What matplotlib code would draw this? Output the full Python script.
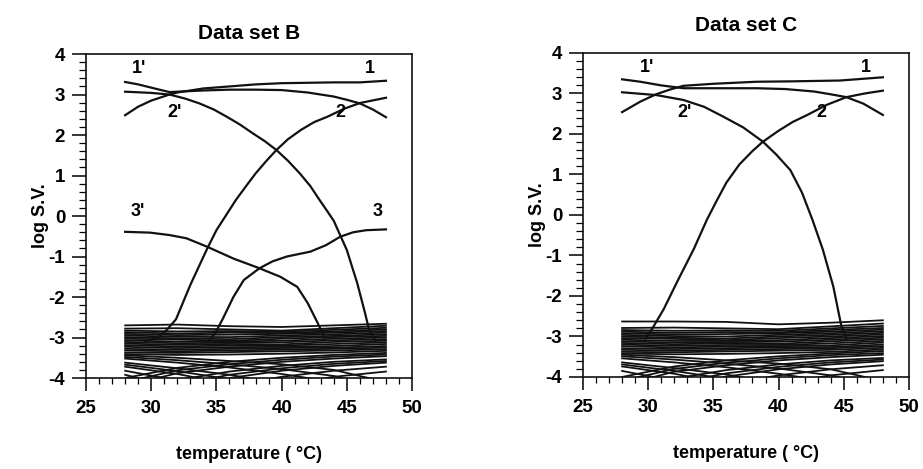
"""
Evolving factor analysis plot: log singular values vs temperature,
forward (1, 2, 3) and backward (1', 2', 3') curves over a noise floor.
"""

import matplotlib
matplotlib.use("Agg")
import matplotlib.pyplot as plt
from matplotlib.ticker import MultipleLocator

plt.rcParams["font.family"] = ["Liberation Sans", "DejaVu Sans"]
plt.rcParams["font.weight"] = "bold"
plt.rcParams["axes.unicode_minus"] = False

INK = "#111111"

# ---------------------------------------------------------------------
# Data set B
# ---------------------------------------------------------------------
b1_t = [28, 29, 30, 31.4, 32, 34, 36, 38, 40, 44, 46, 48]
b1_v = [2.49, 2.70, 2.85, 3.00, 3.05, 3.15, 3.20, 3.25, 3.28, 3.30, 3.30, 3.34]

b1p_t = [28, 29, 30, 31.4, 32, 34, 36, 38, 40, 42, 44, 45, 46, 47, 48]
b1p_v = [3.31, 3.25, 3.17, 3.06, 3.07, 3.10, 3.12, 3.12, 3.11, 3.05, 2.95, 2.87, 2.78, 2.63, 2.44]

b2_t = [29.5, 30.5, 31.2, 31.9, 33.0, 34.3, 35.0, 35.6, 36.5, 37.3, 38.0, 38.8, 39.6,
        40.5, 41.5, 42.5, 43.5, 44.8, 46.0, 48.0]
b2_v = [-3.10, -3.00, -2.81, -2.55, -1.70, -0.80, -0.35, -0.05, 0.40, 0.75, 1.05, 1.35, 1.63,
        1.90, 2.13, 2.32, 2.45, 2.65, 2.79, 2.92]

b2p_t = [28, 30, 31.4, 32.6, 33.7, 34.8, 35.8, 36.8, 37.8, 38.7, 39.6, 40.5, 41.4,
         42.2, 42.9, 43.5, 44.0, 45.0, 45.8, 46.4, 46.7, 47.2]
b2p_v = [3.07, 3.04, 3.00, 2.90, 2.78, 2.63, 2.45, 2.26, 2.04, 1.85, 1.63, 1.36, 1.05,
         0.74, 0.40, 0.12, -0.12, -0.84, -1.66, -2.40, -2.80, -3.10]

b3_t = [34.3, 34.9, 35.5, 36.3, 37.1, 38.3, 39.3, 40.4, 42.2, 43.4, 44.5, 45.5, 46.5, 48.0]
b3_v = [-3.10, -2.90, -2.53, -2.00, -1.58, -1.29, -1.12, -1.00, -0.88, -0.72, -0.51, -0.40, -0.35, -0.33]

b3p_t = [28, 29.9, 31.4, 32.7, 34.3, 36.3, 38.3, 39.9, 41.2, 42.0, 42.7, 43.3]
b3p_v = [-0.39, -0.41, -0.47, -0.55, -0.76, -1.05, -1.29, -1.50, -1.75, -2.15, -2.60, -3.00]

# ---------------------------------------------------------------------
# Data set C
# ---------------------------------------------------------------------
c1_t = [28, 29.4, 30.6, 31.7, 32.7, 35, 38.3, 41, 44.7, 48]
c1_v = [2.54, 2.80, 2.98, 3.10, 3.19, 3.24, 3.29, 3.30, 3.32, 3.40]

c1p_t = [28, 29.4, 31, 32.7, 35, 38.3, 40.5, 42.7, 44, 45.2, 46.5, 48]
c1p_v = [3.35, 3.29, 3.20, 3.13, 3.13, 3.13, 3.11, 3.05, 2.98, 2.91, 2.75, 2.47]

c2_t = [29.8, 30.4, 31.2, 32.3, 33.5, 34.5, 35.25, 36.0, 37.0, 38.0, 38.8, 40.0,
        41.1, 42.2, 43.7, 45.2, 46.6, 48.0]
c2_v = [-3.05, -2.76, -2.32, -1.60, -0.84, -0.12, 0.35, 0.80, 1.25, 1.58, 1.81, 2.08,
        2.30, 2.47, 2.72, 2.91, 3.00, 3.07]

c2p_t = [28, 30.65, 32.7, 34.3, 35.75, 37.3, 38.8, 39.8, 40.9, 41.8, 42.6, 43.4, 44.2, 44.8, 45.2]
c2p_v = [3.03, 2.96, 2.84, 2.67, 2.43, 2.16, 1.81, 1.50, 1.11, 0.55, -0.12, -0.86, -1.77, -2.72, -3.05]

# noise floor, sampled at NOISE_T
NOISE_T = [28, 32, 36, 40, 44, 48]

noise_b = [
    [-2.70, -2.68, -2.72, -2.74, -2.70, -2.66],
    [-2.78, -2.77, -2.80, -2.83, -2.77, -2.71],
    [-2.83, -2.85, -2.84, -2.86, -2.81, -2.76],
    [-2.87, -2.90, -2.88, -2.89, -2.85, -2.80],
    [-2.91, -2.94, -2.93, -2.91, -2.88, -2.84],
    [-2.95, -2.98, -2.99, -2.95, -2.92, -2.88],
    [-2.99, -3.02, -3.04, -2.99, -2.96, -2.92],
    [-3.03, -3.05, -3.08, -3.03, -2.99, -2.96],
    [-3.07, -3.10, -3.10, -3.08, -3.03, -3.00],
    [-3.11, -3.14, -3.13, -3.12, -3.07, -3.04],
    [-3.15, -3.18, -3.16, -3.17, -3.11, -3.08],
    [-3.19, -3.22, -3.20, -3.20, -3.16, -3.12],
    [-3.23, -3.26, -3.24, -3.23, -3.21, -3.16],
    [-3.28, -3.30, -3.28, -3.26, -3.25, -3.21],
    [-3.32, -3.34, -3.32, -3.30, -3.28, -3.25],
    [-3.37, -3.38, -3.36, -3.34, -3.32, -3.29],
    [-3.41, -3.43, -3.42, -3.40, -3.37, -3.33],
    [-3.44, -3.50, -3.58, -3.66, -3.80, -4.10],
    [-3.48, -3.56, -3.66, -3.78, -3.95, -4.25],
    [-3.52, -3.62, -3.74, -3.90, -4.10, -4.40],
    [-3.62, -3.76, -3.92, -4.15, -4.45, -4.80],
    [-3.67, -3.83, -4.03, -4.30, -4.62, -5.00],
    [-3.72, -3.90, -4.15, -4.45, -4.80, -5.20],
    [-3.82, -4.06, -4.40, -4.80, -5.20, -5.60],
    [-3.92, -4.25, -4.70, -5.10, -5.50, -5.90],
    [-4.00, -3.75, -3.60, -3.50, -3.43, -3.38],
    [-4.10, -3.81, -3.66, -3.55, -3.47, -3.42],
    [-4.20, -3.88, -3.72, -3.60, -3.52, -3.46],
    [-4.50, -4.05, -3.84, -3.70, -3.60, -3.54],
    [-4.70, -4.17, -3.92, -3.76, -3.65, -3.58],
    [-4.90, -4.30, -4.00, -3.82, -3.70, -3.62],
    [-5.40, -4.65, -4.20, -3.97, -3.82, -3.72],
    [-6.00, -5.10, -4.50, -4.18, -3.97, -3.84],
]

noise_c = [
    [-2.63, -2.63, -2.64, -2.70, -2.66, -2.60],
    [-2.79, -2.78, -2.80, -2.82, -2.75, -2.68],
    [-2.84, -2.86, -2.85, -2.86, -2.80, -2.74],
    [-2.88, -2.91, -2.89, -2.90, -2.84, -2.79],
    [-2.92, -2.95, -2.94, -2.92, -2.88, -2.83],
    [-2.96, -2.99, -3.00, -2.96, -2.92, -2.87],
    [-3.00, -3.03, -3.05, -3.00, -2.96, -2.91],
    [-3.04, -3.06, -3.09, -3.04, -3.00, -2.95],
    [-3.08, -3.11, -3.11, -3.09, -3.04, -2.99],
    [-3.12, -3.15, -3.14, -3.13, -3.08, -3.03],
    [-3.16, -3.19, -3.17, -3.18, -3.12, -3.07],
    [-3.20, -3.23, -3.21, -3.21, -3.17, -3.11],
    [-3.24, -3.27, -3.25, -3.24, -3.22, -3.15],
    [-3.29, -3.31, -3.29, -3.27, -3.26, -3.20],
    [-3.33, -3.35, -3.33, -3.31, -3.29, -3.24],
    [-3.38, -3.39, -3.37, -3.35, -3.33, -3.28],
    [-3.42, -3.44, -3.43, -3.41, -3.38, -3.32],
    [-3.45, -3.51, -3.59, -3.67, -3.81, -4.10],
    [-3.49, -3.57, -3.67, -3.79, -3.96, -4.25],
    [-3.54, -3.64, -3.76, -3.92, -4.12, -4.40],
    [-3.64, -3.78, -3.94, -4.17, -4.47, -4.80],
    [-3.69, -3.85, -4.05, -4.32, -4.64, -5.00],
    [-3.74, -3.92, -4.17, -4.47, -4.82, -5.20],
    [-3.85, -4.10, -4.45, -4.85, -5.25, -5.60],
    [-4.00, -3.74, -3.59, -3.49, -3.42, -3.36],
    [-4.10, -3.80, -3.65, -3.54, -3.46, -3.41],
    [-4.20, -3.87, -3.71, -3.59, -3.51, -3.45],
    [-4.50, -4.04, -3.83, -3.69, -3.59, -3.53],
    [-4.70, -4.16, -3.91, -3.75, -3.64, -3.57],
    [-4.90, -4.29, -3.99, -3.81, -3.69, -3.61],
    [-5.40, -4.64, -4.19, -3.96, -3.81, -3.71],
    [-6.00, -5.10, -4.50, -4.17, -3.96, -3.83],
]

labels_b = [("1'", 29.1, 3.65), ("1", 46.8, 3.65), ("2'", 31.8, 2.55),
            ("2", 44.5, 2.55), ("3'", 29.0, 0.10), ("3", 47.4, 0.10)]
labels_c = [("1'", 29.9, 3.65), ("1", 46.7, 3.65), ("2'", 32.8, 2.52),
            ("2", 43.3, 2.52)]


def style_axes(ax, title, title_pad):
    ax.set_xlim(25, 50)
    ax.set_ylim(-4, 4)
    ax.xaxis.set_major_locator(MultipleLocator(5))
    ax.xaxis.set_minor_locator(MultipleLocator(1))
    ax.yaxis.set_major_locator(MultipleLocator(1))
    ax.yaxis.set_minor_locator(MultipleLocator(0.2))
    ax.tick_params(axis="x", which="major", direction="out", length=9, width=1.1,
                   pad=7, labelsize=13.5)
    ax.tick_params(axis="x", which="minor", direction="out", length=4, width=0.9)
    ax.tick_params(axis="y", which="major", direction="out", length=10, width=1.1,
                   pad=5, labelsize=13.5)
    ax.tick_params(axis="y", which="minor", direction="out", length=5, width=0.9)
    for lab in ax.get_xticklabels() + ax.get_yticklabels():
        lab.set_fontweight("bold")
    for sp in ax.spines.values():
        sp.set_linewidth(1.2)
        sp.set_color(INK)
    ax.set_title(title, fontsize=15, fontweight="bold", pad=title_pad)
    ax.set_xlabel("temperature ( °C)", fontsize=13, fontweight="bold", labelpad=21)
    ax.set_ylabel("log S.V.", fontsize=13, fontweight="bold", labelpad=0)


def draw_panel(ax, curves, noise, labels):
    for row in noise:
        ax.plot(NOISE_T, row, color=INK, lw=1.3)
    for t, v in curves:
        ax.plot(t, v, color=INK, lw=1.6)
    for txt, x, y in labels:
        ax.text(x, y, txt, fontsize=13, fontweight="bold", ha="center", va="center")


fig = plt.figure(figsize=(9.23, 4.69), dpi=100)
ax_b = fig.add_axes([0.0932, 0.1940, 0.3532, 0.6908])
ax_c = fig.add_axes([0.6316, 0.1962, 0.3532, 0.6908])

draw_panel(ax_b, [(b1_t, b1_v), (b1p_t, b1p_v), (b2_t, b2_v), (b2p_t, b2p_v),
                  (b3_t, b3_v), (b3p_t, b3p_v)], noise_b, labels_b)
draw_panel(ax_c, [(c1_t, c1_v), (c1p_t, c1p_v), (c2_t, c2_v), (c2p_t, c2p_v)],
           noise_c, labels_c)

style_axes(ax_b, "Data set B", 11)
style_axes(ax_c, "Data set C", 16)

fig.savefig("out.png", dpi=100, facecolor="white")
